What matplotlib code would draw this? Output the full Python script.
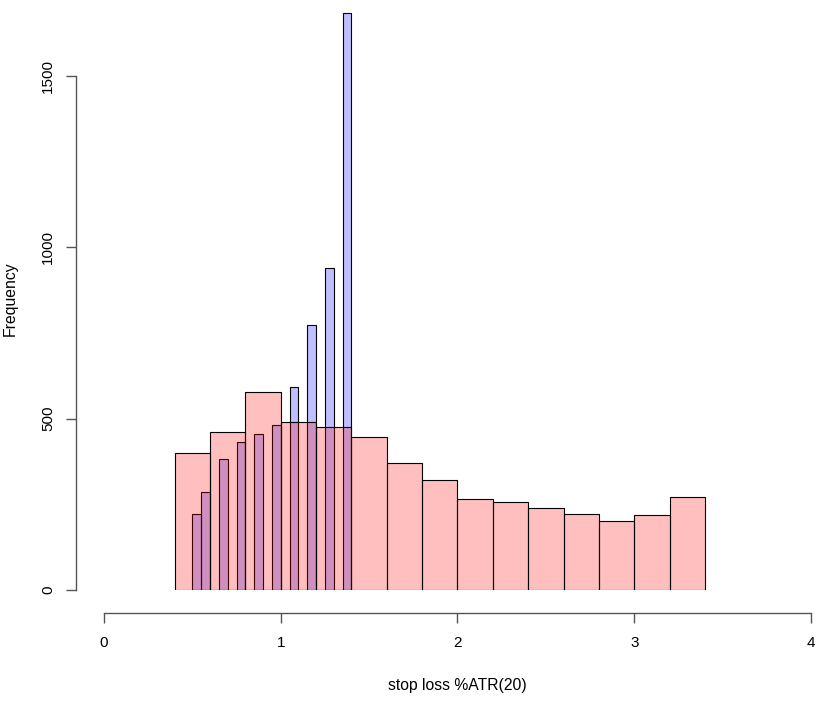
import numpy as np
import matplotlib.pyplot as plt

plt.rcParams['font.family'] = ['Liberation Sans', 'DejaVu Sans']

# blue histogram: bin edges every 0.05 from 0.5 to 1.4
blue_edges = [0.50, 0.55, 0.60, 0.65, 0.70, 0.75, 0.80, 0.85, 0.90, 0.95,
              1.00, 1.05, 1.10, 1.15, 1.20, 1.25, 1.30, 1.35, 1.40]
blue_counts = [222, 286, 0, 382, 0, 432, 0, 455, 0, 482,
               0, 591, 0, 773, 0, 940, 0, 1684]

# red histogram: bin edges every 0.2 from 0.4 to 3.4
red_edges = [0.4, 0.6, 0.8, 1.0, 1.2, 1.4, 1.6, 1.8, 2.0, 2.2, 2.4, 2.6,
             2.8, 3.0, 3.2, 3.4]
red_counts = [400, 462, 577, 490, 475, 446, 372, 321, 266, 257, 239, 222,
              202, 220, 271]

x_ticks = [0, 1, 2, 3, 4]
y_ticks = [0, 500, 1000, 1500]

W, H = 828, 702
fig = plt.figure(figsize=(W / 100, H / 100), dpi=100)
ymax = 1700
y0_px, y1500_px = 590, 76
px_per_unit = (y0_px - y1500_px) / 1500
top_px = y0_px - ymax * px_per_unit
ax = fig.add_axes([104 / W, 1 - y0_px / H, (811 - 104) / W, (y0_px - top_px) / H])

# blue first, red added on top (as in R hist(..., add=TRUE))
be = np.array(blue_edges)
ax.bar(be[:-1], blue_counts, width=np.diff(be), align='edge',
       color=(0, 0, 1, 0.25), edgecolor='black', linewidth=0.8)
re_ = np.array(red_edges)
ax.bar(re_[:-1], red_counts, width=np.diff(re_), align='edge',
       color=(1, 0, 0, 0.25), edgecolor='black', linewidth=0.8)

ax.set_xlim(0, 4)
ax.set_ylim(0, ymax)

for s in ['top', 'right']:
    ax.spines[s].set_visible(False)
ax.spines['left'].set_position(('outward', 28 * 0.72))
ax.spines['bottom'].set_position(('outward', 23 * 0.72))
ax.spines['left'].set_bounds(0, 1500)
ax.spines['bottom'].set_bounds(0, 4)
for s in ['left', 'bottom']:
    ax.spines[s].set_color('#555555')
    ax.spines[s].set_linewidth(1.0)

ax.set_xticks(x_ticks)
ax.set_yticks(y_ticks)
ax.set_yticklabels([str(v) for v in y_ticks], rotation=90, va='center')
ax.tick_params(axis='both', direction='out', length=7.2, width=1.0,
               color='#555555', labelsize=11)
ax.tick_params(axis='x', pad=9.5)
ax.tick_params(axis='y', pad=8)

ax.set_xlabel('stop loss %ATR(20)', fontsize=11.3, labelpad=20)
ax.set_ylabel('Frequency', fontsize=11.3, labelpad=17)

fig.savefig('out.png', dpi=100)
